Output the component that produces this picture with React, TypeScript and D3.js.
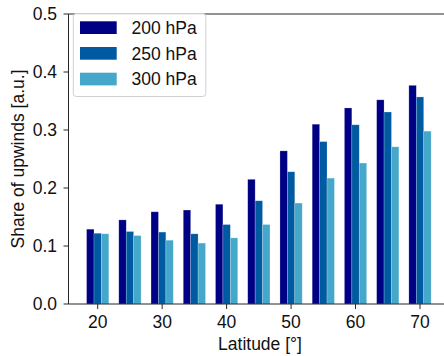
import React from "react";
import * as d3 from "d3";

const latitudes = [20, 25, 30, 35, 40, 45, 50, 55, 60, 65, 70];
const series = ["200 hPa", "250 hPa", "300 hPa"];
const v200 = [0.129, 0.145, 0.159, 0.162, 0.172, 0.215, 0.264, 0.310, 0.338, 0.352, 0.377];
const v250 = [0.122, 0.125, 0.124, 0.121, 0.137, 0.178, 0.228, 0.280, 0.309, 0.331, 0.357];
const v300 = [0.121, 0.118, 0.110, 0.105, 0.114, 0.137, 0.174, 0.217, 0.243, 0.271, 0.298];
const xTicks = [20, 30, 40, 50, 60, 70];
const yTicks = [0, 0.1, 0.2, 0.3, 0.4, 0.5];
const colors = ["#000085", "#005AA1", "#45A7C9"];

export default function App() {
  const W = 444, H = 356;
  const x = d3.scaleLinear().domain([20, 70]).range([97.7, 420]);
  const y = d3.scaleLinear().domain([0, 0.5]).range([304, 14]);
  const left = 68.5, right = 450;
  const bw = 1.15;
  const all = [v200, v250, v300];
  const font = "'Liberation Sans', Arial, sans-serif";
  const fs = 17.5;
  const axisColor = "#262626";
  return (
    <svg width={W} height={H} style={{ position: "absolute", left: 0, top: 0 }} fontFamily={font}>
      <rect width={W} height={H} fill="white" />
      {all.map((vals, si) =>
        vals.map((v, i) => {
          const cx = latitudes[i] + (si - 1) * bw;
          const x0 = x(cx - bw / 2);
          const x1 = x(cx + bw / 2);
          return (
            <rect key={`${si}-${i}`} x={x0} y={y(v)} width={x1 - x0} height={y(0) - y(v)}
              fill={colors[si]} stroke="white" strokeOpacity={0.35} strokeWidth={0.6} />
          );
        })
      )}
      <line x1={left} x2={left} y1={y(0.5)} y2={y(0)} stroke={axisColor} strokeWidth={1} />
      <line x1={left} x2={right} y1={y(0)} y2={y(0)} stroke={axisColor} strokeWidth={1} />
      <line x1={left} x2={right} y1={y(0.5)} y2={y(0.5)} stroke={axisColor} strokeWidth={1} />
      {yTicks.map((t) => (
        <g key={t}>
          <line x1={left - 5} x2={left} y1={y(t)} y2={y(t)} stroke={axisColor} />
          <text x={left - 11.5} y={y(t)} dy="0.36em" textAnchor="end" fontSize={fs} fill="#111">
            {d3.format(".1f")(t)}
          </text>
        </g>
      ))}
      {xTicks.map((t) => (
        <g key={t}>
          <line x1={x(t)} x2={x(t)} y1={y(0)} y2={y(0) + 5} stroke={axisColor} />
          <text x={x(t)} y={328} textAnchor="middle" fontSize={fs} fill="#111">
            {t}
          </text>
        </g>
      ))}
      <text x={260} y={350} textAnchor="middle" fontSize={fs} fill="#111">Latitude [°]</text>
      <text transform={`translate(24,159) rotate(-90)`} textAnchor="middle" fontSize={fs} fill="#111">
        Share of upwinds [a.u.]
      </text>
      <rect x={73.3} y={13.5} width={132.5} height={83} rx={3} fill="white" fillOpacity={0.85} stroke="#d0d0d0" strokeWidth={1} />
      {series.map((s, i) => (
        <g key={s}>
          <rect x={80} y={21.3 + i * 25.7} width={36.7} height={12.7} fill={colors[i]} />
          <text x={131.5} y={27.7 + i * 25.7} dy="0.36em" fontSize={fs} fill="#111">{s}</text>
        </g>
      ))}
    </svg>
  );
}
